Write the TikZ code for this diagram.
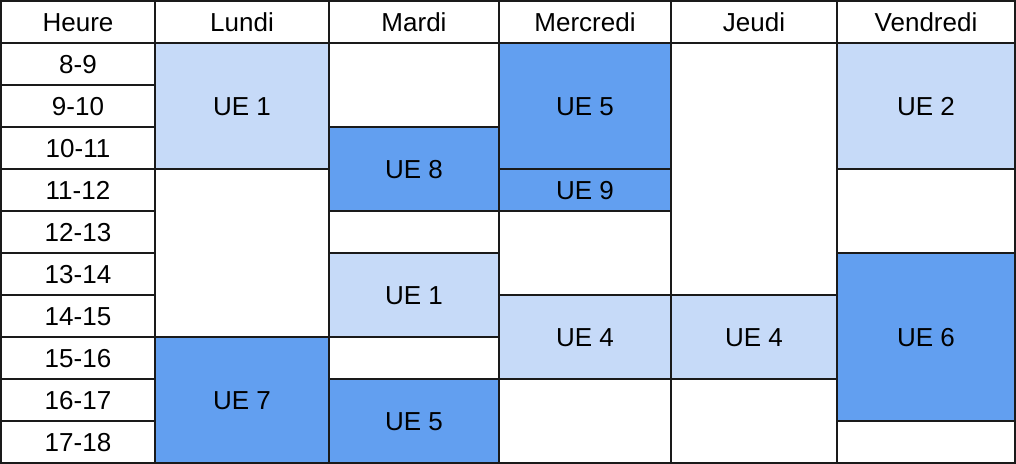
\documentclass[tikz,border=0pt]{standalone}
\usepackage{fontspec}
\setmainfont{Liberation Sans}
\definecolor{uelight}{HTML}{C6DAF8}
\definecolor{uedark}{HTML}{629FF0}
\definecolor{grid}{HTML}{1A1A1A}
\begin{document}
\begin{tikzpicture}[x=0.02cm, y=-0.84cm, line width=0.04cm,
    every node/.style={font=\fontsize{14.8}{17}\selectfont, yshift=-0.5pt},
    cell/.style={draw=grid, fill=white},
    light/.style={draw=grid, fill=uelight},
    dark/.style={draw=grid, fill=uedark}]
      \useasboundingbox (0,-1.017) rectangle (1016,10.031);
      % header row
      \draw[cell] (1,-1) rectangle (155,0) node[midway] (heure){Heure};
      \draw[cell] (155,-1) rectangle (329,0) node[midway] (lun){Lundi};
      \draw[cell] (329,-1) rectangle (499,0) node[midway] (mar){Mardi};
      \draw[cell] (499,-1) rectangle (671,0) node[midway] (mer){Mercredi};
      \draw[cell] (671,-1) rectangle (837,0) node[midway] (jeu){Jeudi};
      \draw[cell] (837,-1) rectangle (1015,0) node[midway] (ven){Vendredi};
      % hours
      \draw[cell] (1,0) rectangle (155,1) node[midway] (h0){8-9};
      \draw[cell] (1,1) rectangle (155,2) node[midway] (h1){9-10};
      \draw[cell] (1,2) rectangle (155,3) node[midway] (h2){10-11};
      \draw[cell] (1,3) rectangle (155,4) node[midway] (h3){11-12};
      \draw[cell] (1,4) rectangle (155,5) node[midway] (h4){12-13};
      \draw[cell] (1,5) rectangle (155,6) node[midway] (h5){13-14};
      \draw[cell] (1,6) rectangle (155,7) node[midway] (h6){14-15};
      \draw[cell] (1,7) rectangle (155,8) node[midway] (h7){15-16};
      \draw[cell] (1,8) rectangle (155,9) node[midway] (h8){16-17};
      \draw[cell] (1,9) rectangle (155,10) node[midway] (h9){17-18};
      % Lundi
      \draw[light] (155,0) rectangle (329,3) node[midway] (lun1){UE 1};
      \draw[cell] (155,3) rectangle (329,7);
      \draw[dark] (155,7) rectangle (329,10) node[midway] (lun7){UE 7};
      % Mardi
      \draw[cell] (329,0) rectangle (499,2);
      \draw[dark] (329,2) rectangle (499,4) node[midway] (mar8){UE 8};
      \draw[cell] (329,4) rectangle (499,5);
      \draw[light] (329,5) rectangle (499,7) node[midway] (mar1){UE 1};
      \draw[cell] (329,7) rectangle (499,8);
      \draw[dark] (329,8) rectangle (499,10) node[midway] (mar5){UE 5};
      % Mercredi
      \draw[dark] (499,0) rectangle (671,3) node[midway] (mer5){UE 5};
      \draw[dark] (499,3) rectangle (671,4) node[midway] (mer9){UE 9};
      \draw[cell] (499,4) rectangle (671,6);
      \draw[light] (499,6) rectangle (671,8) node[midway] (mer4){UE 4};
      \draw[cell] (499,8) rectangle (671,10);
      % Jeudi
      \draw[cell] (671,0) rectangle (837,6);
      \draw[light] (671,6) rectangle (837,8) node[midway] (jeu4){UE 4};
      \draw[cell] (671,8) rectangle (837,10);
      % Vendredi
      \draw[light] (837,0) rectangle (1015,3) node[midway] (ven2){UE 2};
      \draw[cell] (837,3) rectangle (1015,5);
      \draw[dark] (837,5) rectangle (1015,9) node[midway] (ven6){UE 6};
      \draw[cell] (837,9) rectangle (1015,10);
    \end{tikzpicture}
\end{document}
